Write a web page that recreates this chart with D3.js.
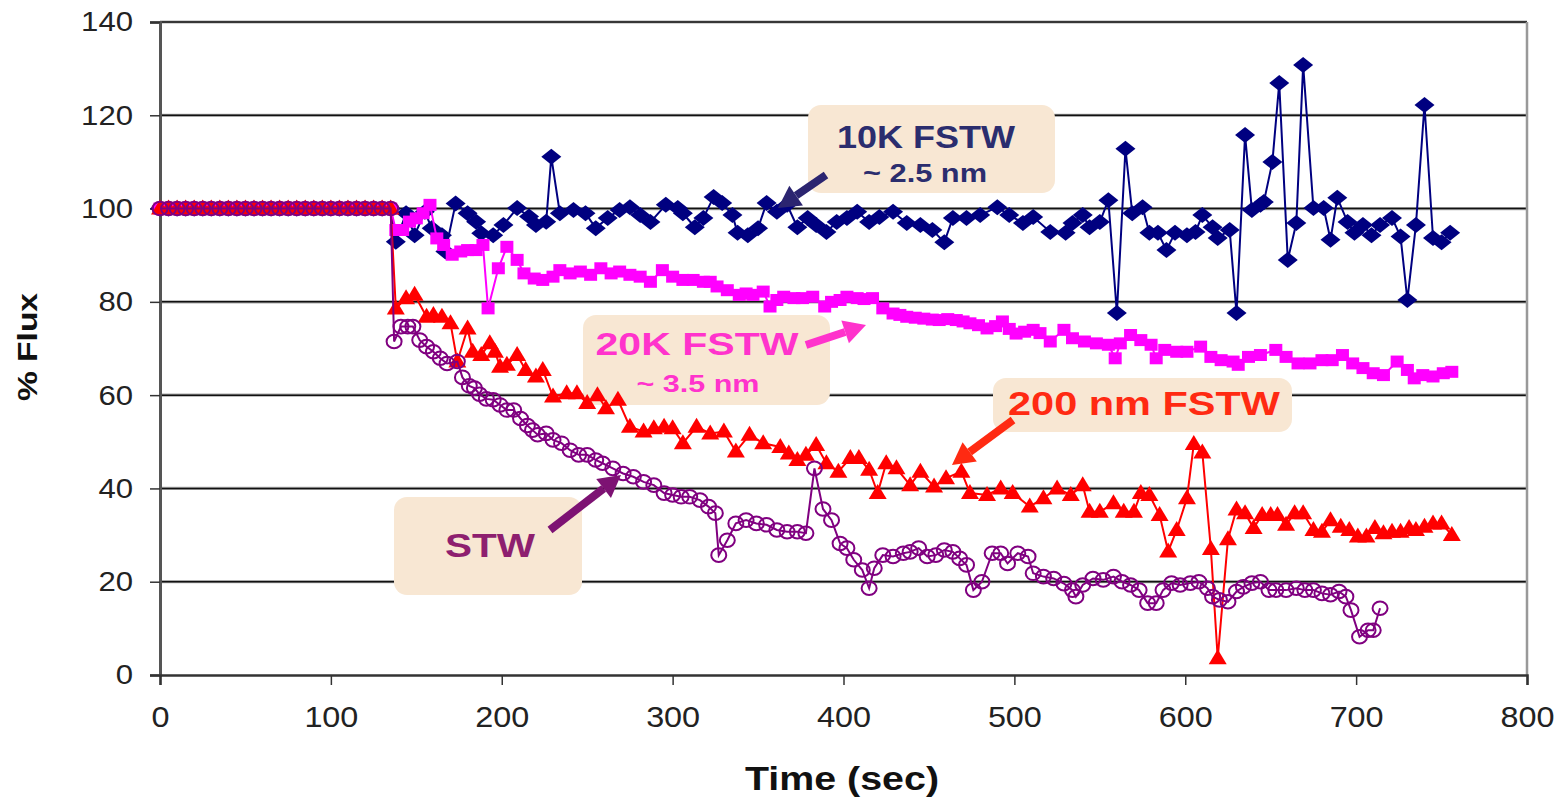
<!DOCTYPE html>
<html>
<head>
<meta charset="utf-8">
<script src="https://cdn.jsdelivr.net/npm/d3@7/dist/d3.min.js"></script>
<style>
body{margin:0;background:#fff;}
text{font-family:"Liberation Sans",Arial,sans-serif;}
</style>
</head>
<body>
<div id="graphe"></div>
<script>
// valeurs : [temps (s), % flux]
const plateau = [[0,100],[5,100],[10,100],[15,100],[20,100],[25,100],[30,100],[35,100],[40,100],[45,100],[50,100],[55,100],[60,100],[65,100],[70,100],[75,100],[80,100],[85,100],[90,100],[95,100],[100,100],[105,100],[110,100],[115,100],[120,100],[125,100],[130,100],[135,100]];

const fstw10k = [[138,92.9],[144,99],[149,94.3],[155,99.3],[159,95.8],[165,94.3],[167,90.8],[173,101.1],[180,99],[185,97.2],[188,94.7],[195,94.3],[201,96.5],[209,100.1],[216,98.3],[220,96.5],[226,97.2],[229,111.1],[234,99],[242,99.7],[249,99],[255,95.8],[262,98],[269,99.7],[275,100.3],[281,98.6],[287,97.1],[296,100.8],[303,100.1],[306,99],[313,96],[318,98],[324,102.5],[329,101.2],[335,98.6],[338,94.8],[344,94.3],[350,95.8],[355,101.2],[361,99.3],[367,100.8],[373,96],[379,98],[384,96.5],[390,95],[396,97.1],[402,98],[408,99.3],[415,97.1],[421,98.2],[429,99.3],[437,96.9],[445,96.5],[452,95.4],[459,92.8],[464,98],[472,98],[480,98.6],[490,100.3],[497,98.6],[505,96.9],[511,98.2],[521,95],[530,94.8],[534,96.9],[540,98.6],[544,96],[550,97.1],[555,101.8],[560,77.6],[565,112.8],[569,99],[575,100.3],[579,94.8],[584,94.8],[589,91.1],[594,94.8],[601,94.3],[606,95],[610,98.6],[616,96],[619,93.7],[626,95.4],[630,77.6],[635,115.8],[639,99.7],[644,100.8],[646,101.4],[651,110],[655,126.9],[660,89],[665,96.9],[669,130.8],[675,100.1],[681,100.1],[685,93.3],[689,102.3],[695,97.1],[699,94.8],[704,96.5],[709,94.3],[714,96.5],[721,98],[726,94],[730,80.4],[735,96.5],[740,122.2],[745,93.7],[750,92.8],[755,94.8]];

const fstw20k = [[138,95.4],[142,95.4],[146,97.2],[150,97.9],[154,99],[158,100.8],[162,93.6],[166,92.2],[171,90.1],[176,90.8],[180,91.1],[185,91.1],[189,92.2],[192,78.6],[198,87.2],[203,91.8],[209,89],[213,86.1],[219,85],[224,84.7],[230,85.4],[234,86.8],[240,86.1],[246,86.5],[252,85.8],[258,87.2],[264,86.1],[269,86.5],[275,85.8],[281,85.4],[287,84.3],[294,86.8],[300,85.4],[306,84.7],[312,84.7],[318,84.3],[322,84.3],[326,83.3],[332,82.5],[339,81.5],[343,81.8],[347,81.5],[353,82.2],[357,79],[361,80.4],[365,81.1],[371,80.8],[376,80.8],[382,81.1],[389,79],[393,80],[398,80.4],[402,81.1],[408,80.8],[412,80.6],[417,80.8],[423,78.6],[429,77.5],[433,77.2],[437,76.8],[442,76.6],[447,76.4],[452,76.2],[456,76.1],[461,76.3],[466,76.1],[470,75.8],[474,75.4],[479,75],[484,74.3],[489,74.8],[493,75.8],[497,74.2],[501,73.2],[506,73.6],[511,74],[515,73.3],[521,71.5],[529,74],[534,72.2],[541,71.5],[548,71.1],[555,70.8],[559,67.9],[562,71.1],[568,72.9],[574,71.8],[580,70.8],[583,67.9],[588,69.7],[595,69.3],[601,69.3],[609,70.4],[615,68.2],[621,67.5],[628,67.2],[631,66.5],[637,68.2],[644,68.6],[653,69.7],[659,68.2],[666,66.8],[673,66.8],[680,67.5],[686,67.5],[692,68.6],[698,66.8],[704,65.8],[710,64.7],[716,64.3],[724,67.2],[730,65.4],[734,63.6],[739,64.3],[745,64],[751,64.7],[756,65]];

const fstw200 = [[138,78.6],[144,80.8],[149,81.5],[156,76.8],[160,77.2],[165,76.8],[170,75.4],[174,67.2],[180,74.3],[183,69.3],[188,68.6],[193,71.1],[196,69.3],[199,66.1],[203,66.5],[209,68.6],[214,65.4],[220,64],[224,65.4],[230,59.7],[238,60.4],[244,60.4],[250,58.3],[256,60],[261,57.2],[268,59],[275,53.2],[283,52.2],[289,52.9],[295,53.2],[300,52.9],[306,49.7],[314,53.2],[322,51.8],[330,52.2],[337,47.9],[345,51.5],[353,49.7],[363,48.9],[368,47.5],[373,46.1],[378,47.2],[384,49.3],[390,45.4],[397,43.6],[404,46.5],[409,46.5],[415,44],[420,39],[425,45.4],[431,44.3],[439,40.7],[445,43.6],[453,40.4],[460,42.2],[469,43.6],[474,39],[484,38.6],[492,40],[499,39],[509,36.1],[517,37.9],[525,40],[533,38.6],[540,40.7],[544,35],[550,35],[558,36.8],[564,35],[570,35],[574,39],[579,38.6],[585,34.3],[590,26.5],[595,31.1],[601,37.9],[605,49.5],[610,47.7],[615,27],[619,3.6],[625,29.1],[630,35.5],[635,34.7],[640,31.5],[645,34.3],[650,34.3],[654,34.3],[659,32.2],[664,34.7],[669,34.7],[675,31.1],[680,30.7],[685,33.2],[691,31.8],[696,31.1],[701,29.7],[706,29.7],[711,31.5],[716,30.4],[721,30.7],[726,30.7],[731,31.5],[735,31.1],[740,31.8],[745,32.5],[750,32.5],[756,30]];

const stw = [[137,71.5],[141,74.7],[145,74.7],[148,74.7],[152,71.8],[156,70.4],[160,69.3],[164,67.9],[168,66.8],[174,67.2],[177,63.8],[181,62],[184,61.5],[187,60.2],[191,59.2],[195,59],[199,57.9],[203,56.8],[207,56.8],[211,55],[215,53.5],[218,52.5],[221,51.5],[226,51.8],[230,50.4],[235,49.7],[240,48.2],[245,47.2],[250,47.2],[255,46.1],[259,45.4],[265,44.3],[271,43.2],[277,42.5],[283,41.4],[289,40.7],[295,39],[300,38.6],[305,38.2],[310,38.2],[316,37.5],[321,36.1],[325,34.7],[327,25.7],[332,28.9],[337,32.5],[343,33.2],[349,32.5],[355,32.2],[361,31.1],[367,30.7],[373,30.7],[378,30.4],[383,44.3],[388,35.6],[393,33.2],[398,28.2],[402,27.2],[406,24.7],[411,22.5],[415,18.6],[418,22.9],[423,25.7],[429,25.4],[435,26.1],[439,26.4],[444,27.2],[449,25.4],[454,25.7],[459,26.8],[464,26.4],[468,25],[472,23.6],[476,18.2],[481,20],[487,26.1],[492,26.1],[496,23.9],[502,26.1],[508,25.4],[511,21.8],[517,21.1],[523,20.7],[529,19.6],[534,18.2],[536,16.8],[540,19.3],[546,20.7],[552,20.4],[558,21.1],[563,20],[568,19.3],[573,18.2],[578,15.4],[583,15.4],[587,18.2],[592,19.7],[597,19.3],[603,19.7],[608,20],[613,18.6],[616,16.8],[620,16.1],[625,15.7],[630,17.9],[634,18.9],[639,19.7],[644,20],[649,18.2],[653,18.2],[659,18.2],[665,18.6],[670,18.2],[675,18.2],[680,17.5],[685,17.2],[690,17.9],[694,16.8],[697,13.9],[702,8.2],[707,9.6],[710,9.6],[714,14.3]];

const xTicks = [0,100,200,300,400,500,600,700,800];
const yTicks = [0,20,40,60,80,100,120,140];
const xTitre = "Time (sec)";
const yTitre = "% Flux";

let largeur = 1566, hauteur = 800;
let svg = d3.select("#graphe").append("svg").attr("width",largeur).attr("height",hauteur);

let x = d3.scaleLinear().domain([0,800]).range([160,1527]);
let y = d3.scaleLinear().domain([0,140]).range([675,22]);

// grille horizontale
svg.append("g").selectAll("line").data(yTicks.filter(d=>d>0)).enter().append("line")
    .attr("x1",x(0)).attr("x2",x(800)).attr("y1",d=>y(d)).attr("y2",d=>y(d))
    .attr("stroke","#aaa").attr("stroke-width",3.2);
svg.append("g").selectAll("line").data(yTicks.filter(d=>d>0)).enter().append("line")
    .attr("x1",x(0)).attr("x2",x(800)).attr("y1",d=>y(d)).attr("y2",d=>y(d))
    .attr("stroke","#111").attr("stroke-width",1.5);

// bord droit
svg.append("line").attr("x1",x(800)).attr("x2",x(800)).attr("y1",y(140)).attr("y2",y(0))
    .attr("stroke","#999").attr("stroke-width",2.5);

// axes
let axeY = svg.append("g").attr("transform","translate("+x(0)+",0)")
    .call(d3.axisLeft(y).tickValues(yTicks).tickSize(10).tickPadding(17));
axeY.select(".domain").attr("stroke","#555").attr("stroke-width",3);
axeY.selectAll(".tick line").attr("stroke","#333").attr("stroke-width",1.5);
axeY.selectAll(".tick text").attr("font-size",28).attr("fill","#222")
    .attr("font-family","Liberation Sans, Arial, sans-serif")
    .attr("textLength",d=>String(d).length*17.3).attr("lengthAdjust","spacingAndGlyphs");

let axeX = svg.append("g").attr("transform","translate(0,"+y(0)+")")
    .call(d3.axisBottom(x).tickValues(xTicks).tickSize(10).tickPadding(21));
axeX.select(".domain").attr("stroke","#333").attr("stroke-width",2.5);
axeX.selectAll(".tick line").attr("stroke","#333").attr("stroke-width",1.5);
axeX.selectAll(".tick text").attr("font-size",30).attr("fill","#222")
    .attr("font-family","Liberation Sans, Arial, sans-serif")
    .attr("textLength",d=>String(d).length*18).attr("lengthAdjust","spacingAndGlyphs");

function texte(t,cx,base,taille,couleur,longueur){
    return svg.append("text").text(t).attr("x",cx).attr("y",base)
        .attr("text-anchor","middle").attr("font-size",taille).attr("font-weight","bold")
        .attr("fill",couleur).attr("textLength",longueur).attr("lengthAdjust","spacingAndGlyphs");
}

texte(xTitre,842,790,33,"#111",194);
texte(yTitre,0,0,28,"#111",108).attr("transform","translate(37,347) rotate(-90)");

// cadres des annotations (sous les courbes)
function cadre(x0,y0,x1,y1){
    svg.append("rect").attr("x",x0).attr("y",y0).attr("width",x1-x0).attr("height",y1-y0)
        .attr("rx",13).attr("fill","#f8e7d3");
}
cadre(808,105,1055,193);
cadre(583,315,830,405);
cadre(993,378,1292,432);
cadre(394,497,582,595);

// courbes
let ligne = d3.line().x(d=>x(d[0])).y(d=>y(d[1]));

function serie(donnees,couleur,forme){
    let pts = plateau.concat(donnees);
    let g = svg.append("g");
    g.append("path").attr("d",ligne(pts)).attr("fill","none").attr("stroke",couleur).attr("stroke-width",2);
    g.selectAll("path.m").data(pts).enter().append("path").attr("class","m")
        .attr("transform",d=>"translate("+x(d[0])+","+y(d[1])+")")
        .attr("d",forme).attr("fill",couleur);
    return g;
}

let losange = "M0,-8L10,0L0,8L-10,0Z";
let carre = "M-6.5,-6L6.5,-6L6.5,6L-6.5,6Z";
let triangle = "M0,-9L9,6L-9,6Z";

serie(fstw10k,"#000080",losange);
serie(fstw20k,"#ff00ff",carre);
serie(fstw200,"#ff0000",triangle);

let gStw = svg.append("g");
let ptsStw = plateau.concat(stw);
gStw.append("path").attr("d",ligne(ptsStw)).attr("fill","none").attr("stroke","#800080").attr("stroke-width",2);
gStw.selectAll("ellipse").data(ptsStw).enter().append("ellipse")
    .attr("cx",d=>x(d[0])).attr("cy",d=>y(d[1])).attr("rx",7.5).attr("ry",6.8)
    .attr("fill","none").attr("stroke","#800080").attr("stroke-width",2);

// flèches
function fleche(x0,y0,x1,y1,couleur){
    let a = Math.atan2(y1-y0,x1-x0);
    let L = 22, W = 12;
    let bx = x1-L*Math.cos(a), by = y1-L*Math.sin(a);
    svg.append("line").attr("x1",x0).attr("y1",y0).attr("x2",bx).attr("y2",by)
        .attr("stroke",couleur).attr("stroke-width",8);
    let p1 = [bx+W*Math.sin(a), by-W*Math.cos(a)];
    let p2 = [bx-W*Math.sin(a), by+W*Math.cos(a)];
    svg.append("path").attr("d","M"+x1+","+y1+"L"+p1[0]+","+p1[1]+"L"+p2[0]+","+p2[1]+"Z").attr("fill",couleur);
}
fleche(826,175,778,208,"#2b2470");
fleche(806,345,866,325,"#ff33cc");
fleche(1013,420,952,465,"#ff2a12");
fleche(550,530,621,475,"#7d1273");

// textes des annotations
texte("10K FSTW",926,148,31,"#2b2d6e",178);
texte("~ 2.5 nm",925,182,25,"#2b2d6e",124);
texte("20K FSTW",697,355,31,"#ff33cc",203);
texte("~ 3.5 nm",698,392,24,"#ff33cc",123);
texte("200 nm FSTW",1144,415,33,"#ff2a12",272);
texte("STW",490,557,34,"#8e1f6f",90);
</script>
</body>
</html>
